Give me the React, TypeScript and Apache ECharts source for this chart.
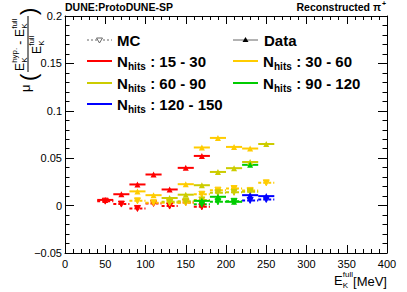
import React, { useEffect, useRef } from "react";
import * as echarts from "echarts";

// Bin centres of E_K^full [MeV] (bin width 20 MeV)
const xCenters = [50, 70, 90, 110, 130, 150, 170, 190, 210, 230, 250];
const binHalfWidth = 10;

// Data (solid, filled triangles)
const data15to30 = [0.006, 0.012, 0.0223, 0.0328, 0.017, 0.0398, 0.0524, null, null, null, null];
const data30to60 = [null, null, 0.015, 0.011, null, 0.0226, 0.0613, 0.0714, 0.0619, 0.0602, null];
const data60to90 = [null, null, null, null, 0.008, 0.0115, 0.0215, 0.0355, 0.0395, 0.046, 0.065];
const data90to120 = [null, null, null, null, null, null, 0.005, 0.0093, 0.004, 0.043, null];
const data120to150 = [null, null, null, null, null, null, null, null, null, 0.011, 0.01];

// MC (dashed, open triangles)
const mc15to30 = [0.0047, 0.0016, -0.003, 0.0023, -0.0005, 0.0034, -0.0013, null, null, null, null];
const mc30to60 = [null, null, 0.005, 0.003, 0.003, 0.003, 0.012, 0.0163, 0.018, 0.016, 0.024];
const mc60to90 = [null, null, null, null, 0.004, 0.0045, 0.006, 0.0135, 0.014, 0.0147, null];
const mc90to120 = [null, null, null, null, null, null, 0.0015, 0.004, 0.0045, null, null];
const mc120to150 = [null, null, null, null, null, null, null, null, null, 0.0055, 0.0065];

const groupLabels = ["15 - 30", "30 - 60", "60 - 90", "90 - 120", "120 - 150"];
const groupColors = ["#ff0000", "#ffcc00", "#cccc00", "#00cc00", "#0000ff"];
const groupData = [data15to30, data30to60, data60to90, data90to120, data120to150];
const groupMC = [mc15to30, mc30to60, mc60to90, mc90to120, mc120to150];

const xTicks = { min: 0, max: 400, interval: 50 };
const yTicks = { min: -0.05, max: 0.2, interval: 0.05 };

const FF = '"Liberation Sans", Arial, Helvetica, sans-serif';

function txt(x: number, y: number, text: string, size: number, opts: any = {}) {
  const align = opts.align || "left";
  const va = opts.va || "middle";
  return {
    type: "text",
    x,
    y,
    silent: true,
    style: {
      text,
      font: `${opts.bold ? "bold " : ""}${size}px ${FF}`,
      fill: opts.color || "#000",
      align,
      verticalAlign: va,
      textAlign: align,
      textVerticalAlign: va,
    },
  };
}

function pairs(values: (number | null)[]) {
  const out: number[][] = [];
  values.forEach((v, i) => {
    if (v !== null && v !== undefined) out.push([xCenters[i], v]);
  });
  return out;
}

function errBarSeries(values: (number | null)[], color: string, dashed: boolean) {
  return {
    type: "custom",
    data: pairs(values),
    z: dashed ? 2 : 4,
    renderItem: (params: any, api: any) => {
      const x = api.value(0);
      const y = api.value(1);
      const p1 = api.coord([x - binHalfWidth, y]);
      const p2 = api.coord([x + binHalfWidth, y]);
      return {
        type: "line",
        shape: { x1: p1[0], y1: p1[1], x2: p2[0], y2: p2[1] },
        style: {
          stroke: color,
          lineWidth: 2,
          lineDash: dashed ? [3, 2] : null,
        },
      };
    },
  };
}

function markerSeries(values: (number | null)[], color: string, mc: boolean) {
  return {
    type: "scatter",
    data: pairs(values),
    symbol: "triangle",
    symbolRotate: mc ? 180 : 0,
    symbolSize: mc ? 6 : 6,
    z: mc ? 3 : 5,
    itemStyle: mc
      ? { color: color, borderColor: color, borderWidth: 1, opacity: 1 }
      : { color: color, opacity: 1 },
  };
}

function legendRow(cx: number, cy: number, color: string, label: string) {
  const els: any[] = [];
  els.push({
    type: "line",
    silent: true,
    shape: { x1: cx, y1: cy, x2: cx + 25, y2: cy },
    style: { stroke: color, lineWidth: 2 },
  });
  const tx = cx + 30;
  els.push(txt(tx, cy, "N", 15, { bold: true }));
  els.push(txt(tx + 11, cy + 5, "hits", 10, { bold: true }));
  els.push(txt(tx + 29, cy, " : " + label, 15, { bold: true }));
  return els;
}

function eFull(x: number, y: number, size: number, sup: string, sub: string) {
  // "E" with stacked subscript and superscript, baseline-ish at y (bottom aligned)
  const s = Math.round(size * 0.65);
  return [
    txt(x, y, "E", size, { va: "bottom" }),
    txt(x + size * 0.68, y - size * 0.62, sup, s, { va: "bottom" }),
    txt(x + size * 0.68, y + s * 0.35, sub, s, { va: "bottom" }),
  ];
}

function yTitle() {
  // local frame: x along text (screen upward), y across (screen rightward)
  const children: any[] = [];
  children.push(txt(0, -3, "μ", 13, { va: "middle" }));
  children.push(txt(11, 0, "(", 22, { va: "middle" }));
  // numerator
  const ny = -2;
  children.push(...eFull(21, ny, 12, "hyp.", "K"));
  children.push(txt(44, ny, " - ", 12, { va: "bottom" }));
  children.push(...eFull(55, ny, 12, "full", "K"));
  // fraction line
  children.push({
    type: "line",
    silent: true,
    shape: { x1: 20, y1: 0, x2: 76, y2: 0 },
    style: { stroke: "#000", lineWidth: 1 },
  });
  // denominator
  children.push(...eFull(38, 15, 12, "full", "K"));
  children.push(txt(77, 0, ")", 22, { va: "middle" }));
  return {
    type: "group",
    x: 28,
    y: 92,
    rotation: Math.PI / 2,
    children,
  };
}

function fmtY(v: number) {
  const r = Math.round(v * 1000) / 1000;
  if (Math.abs(r) < 1e-9) return "0";
  const s = String(Math.abs(r));
  return r < 0 ? "\u2212" + s : s;
}

export default function App() {
  const ref = useRef<HTMLDivElement>(null);
  useEffect(() => {
    if (!ref.current) return;
    const chart = echarts.init(ref.current, undefined, { renderer: "svg" });

    const series: any[] = [];
    groupColors.forEach((c, i) => {
      series.push(errBarSeries(groupMC[i], c, true));
      series.push(markerSeries(groupMC[i], c, true));
    });
    groupColors.forEach((c, i) => {
      series.push(errBarSeries(groupData[i], c, false));
      series.push(markerSeries(groupData[i], c, false));
    });

    const axisCommonX = {
      type: "value",
      min: xTicks.min,
      max: xTicks.max,
      interval: xTicks.interval,
      axisLine: { show: true, onZero: false, lineStyle: { color: "#000", width: 1 } },
      axisTick: { show: true, inside: true, length: 8, lineStyle: { color: "#000" } },
      minorTick: { show: true, splitNumber: 5, length: 4, lineStyle: { color: "#000" } },
      splitLine: { show: false },
      minorSplitLine: { show: false },
    };
    const axisCommonY = {
      type: "value",
      min: yTicks.min,
      max: yTicks.max,
      interval: yTicks.interval,
      axisLine: { show: true, onZero: false, lineStyle: { color: "#000", width: 1 } },
      axisTick: { show: true, inside: true, length: 9, lineStyle: { color: "#000" } },
      minorTick: { show: true, splitNumber: 5, length: 4.5, lineStyle: { color: "#000" } },
      splitLine: { show: false },
      minorSplitLine: { show: false },
    };

    const graphics: any[] = [];
    // header texts
    graphics.push(txt(65, 7, "DUNE:ProtoDUNE-SP", 10.5, { bold: true }));
    graphics.push(txt(381, 7, "Reconstructed \u03c0", 10.5, { bold: true, align: "right" }));
    graphics.push(txt(382, 3.5, "+", 7, { bold: true }));
    // x-axis title
    graphics.push(...eFull(334, 287, 13, "full", "K"));
    graphics.push(txt(387, 281, "[MeV]", 13, { align: "right" }));
    // y-axis title
    graphics.push(yTitle());
    // legend
    // MC
    graphics.push({
      type: "line",
      silent: true,
      shape: { x1: 87, y1: 40, x2: 112, y2: 40 },
      style: { stroke: "#666", lineWidth: 1, lineDash: [2, 2] },
    });
    graphics.push({
      type: "polygon",
      silent: true,
      shape: { points: [[96.5, 38], [102.5, 38], [99.5, 43]] },
      style: { fill: "#fff", stroke: "#666", lineWidth: 1 },
    });
    graphics.push(txt(117, 40, "MC", 15, { bold: true }));
    // Data
    graphics.push({
      type: "line",
      silent: true,
      shape: { x1: 233, y1: 40, x2: 258, y2: 40 },
      style: { stroke: "#666", lineWidth: 1 },
    });
    graphics.push({
      type: "polygon",
      silent: true,
      shape: { points: [[242.5, 42], [248.5, 42], [245.5, 37]] },
      style: { fill: "#000" },
    });
    graphics.push(txt(264, 40, "Data", 15, { bold: true }));
    const rowsY = [61, 61, 83, 83, 104];
    const colsX = [87, 233, 87, 233, 87];
    groupLabels.forEach((lab, i) => {
      graphics.push(...legendRow(colsX[i], rowsY[i], groupColors[i], lab));
    });

    chart.setOption({
      animation: false,
      backgroundColor: "#fff",
      grid: { left: 65, right: 20, top: 16, bottom: 39, containLabel: false },
      xAxis: [
        {
          ...axisCommonX,
          position: "bottom",
          axisLabel: {
            show: true,
            margin: 5,
            color: "#000",
            fontSize: 11,
            fontFamily: FF,
          },
        },
        {
          ...axisCommonX,
          position: "top",
          axisLabel: { show: false },
        },
      ],
      yAxis: [
        {
          ...axisCommonY,
          position: "left",
          axisLabel: {
            show: true,
            margin: 3,
            color: "#000",
            fontSize: 11,
            fontFamily: FF,
            formatter: (v: number) => fmtY(v),
          },
        },
        {
          ...axisCommonY,
          position: "right",
          axisLabel: { show: false },
        },
      ],
      series,
      graphic: graphics,
    });

    return () => chart.dispose();
  }, []);

  return (
    <div
      ref={ref}
      style={{ position: "fixed", left: 0, top: 0, width: 407, height: 292, background: "#fff" }}
    />
  );
}
